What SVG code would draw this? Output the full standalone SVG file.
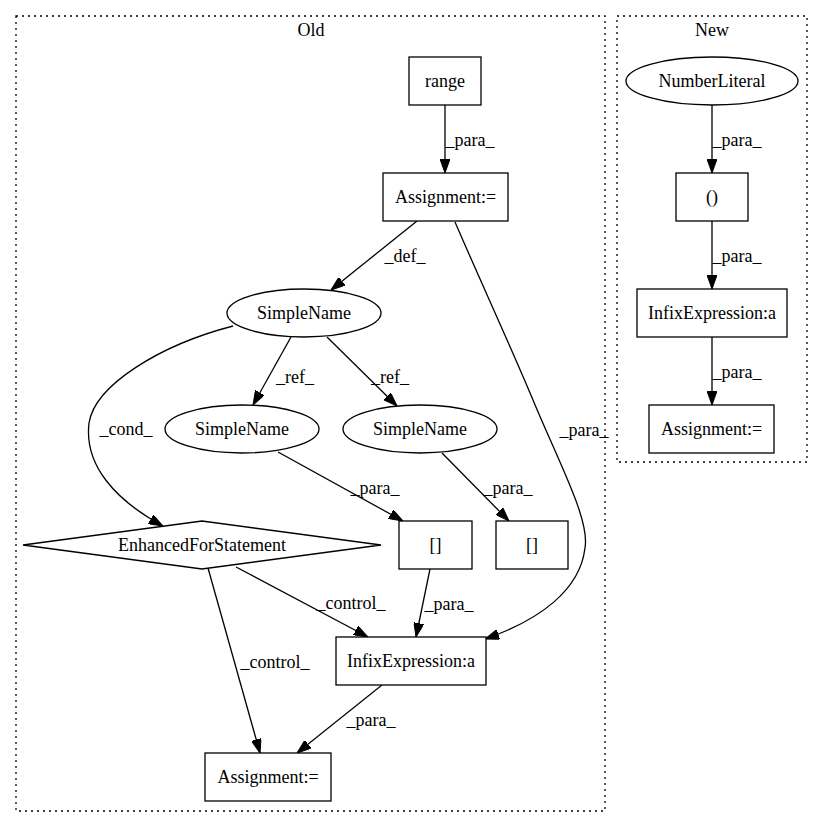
<svg xmlns="http://www.w3.org/2000/svg" width="824" height="828" viewBox="0 0 824 828">
<style>
text{font-family:"Liberation Serif","Times New Roman",serif;font-size:18px;fill:#000;text-anchor:middle}
.n{fill:#fff;stroke:#000;stroke-width:1.3}
.c{fill:none;stroke:#000;stroke-width:1.3;stroke-dasharray:2,4}
.e{fill:none;stroke:#000;stroke-width:1.3;marker-end:url(#a)}
</style>
<defs>
<marker id="a" viewBox="0 0 14 10" refX="14" refY="5" markerWidth="14" markerHeight="10" markerUnits="userSpaceOnUse" orient="auto">
<path d="M0,0 L14,5 L0,10 z" fill="#000" stroke="#000" stroke-width="1"/>
</marker>
</defs>
<rect width="824" height="828" fill="#fff"/>
<g id="cluster_old">
<rect class="c" x="16" y="16" width="589" height="795"/>
<text x="311" y="36">Old</text>
</g>
<g id="cluster_new">
<rect class="c" x="617" y="16" width="190" height="446"/>
<text x="712" y="36">New</text>
</g>
<g id="edges">
<path class="e" d="M445,105 L445,173"/>
<text x="470" y="146">_para_</text>
<path class="e" d="M417,221 L331,290"/>
<text x="405" y="262">_def_</text>
<path class="e" d="M455,222 C480,280 510,345 533,400 C560,465 590,520 585,548 C580,590 540,620 485,639"/>
<text x="584" y="436">_para_</text>
<path class="e" d="M291,337 L253,405"/>
<text x="295" y="383">_ref_</text>
<path class="e" d="M327,337 L397,406"/>
<text x="390" y="383">_ref_</text>
<path class="e" d="M233,326 C160,345 95,385 89,423 C84,465 115,500 163,526"/>
<text x="126" y="435">_cond_</text>
<path class="e" d="M278,452 L403,521"/>
<text x="375" y="494">_para_</text>
<path class="e" d="M442,453 L509,521"/>
<text x="508" y="494">_para_</text>
<path class="e" d="M236,567 L368,637"/>
<text x="351" y="609">_control_</text>
<path class="e" d="M430,569 L416,637"/>
<text x="449" y="610">_para_</text>
<path class="e" d="M208,568 L260,753"/>
<text x="275" y="668">_control_</text>
<path class="e" d="M382,685 L297,753"/>
<text x="371" y="726">_para_</text>
<path class="e" d="M712,105 L712,173"/>
<text x="737" y="146">_para_</text>
<path class="e" d="M712,221 L712,289"/>
<text x="737" y="262">_para_</text>
<path class="e" d="M712,337 L712,405"/>
<text x="737" y="378">_para_</text>
</g>
<g id="range"><rect class="n" x="409" y="57" width="72" height="48"/><text x="445" y="87">range</text></g>
<g id="assign_old_top"><rect class="n" x="383" y="173" width="125" height="48"/><text x="445.5" y="203">Assignment:=</text></g>
<g id="simplename_top"><ellipse class="n" cx="304" cy="313" rx="77" ry="24"/><text x="304" y="319">SimpleName</text></g>
<g id="simplename_left"><ellipse class="n" cx="242" cy="429" rx="77" ry="24"/><text x="242" y="435">SimpleName</text></g>
<g id="simplename_right"><ellipse class="n" cx="420" cy="429" rx="77" ry="24"/><text x="420" y="435">SimpleName</text></g>
<g id="enhanced_for"><polygon class="n" points="23,545 202,521 381,545 202,569"/><text x="202" y="551">EnhancedForStatement</text></g>
<g id="index_left"><rect class="n" x="399" y="521" width="73" height="48"/><text x="435.5" y="551">[]</text></g>
<g id="index_right"><rect class="n" x="496" y="521" width="72" height="48"/><text x="532" y="551">[]</text></g>
<g id="infix_old"><rect class="n" x="336" y="637" width="150" height="48"/><text x="411" y="667">InfixExpression:a</text></g>
<g id="assign_old_bottom"><rect class="n" x="205" y="753" width="126" height="48"/><text x="268" y="783">Assignment:=</text></g>
<g id="number_literal"><ellipse class="n" cx="712" cy="81" rx="86" ry="24"/><text x="712" y="87">NumberLiteral</text></g>
<g id="paren"><rect class="n" x="676" y="173" width="72" height="48"/><text x="712" y="203">()</text></g>
<g id="infix_new"><rect class="n" x="637" y="289" width="150" height="48"/><text x="712" y="319">InfixExpression:a</text></g>
<g id="assign_new"><rect class="n" x="649" y="405" width="125" height="48"/><text x="711.5" y="435">Assignment:=</text></g>
</svg>
